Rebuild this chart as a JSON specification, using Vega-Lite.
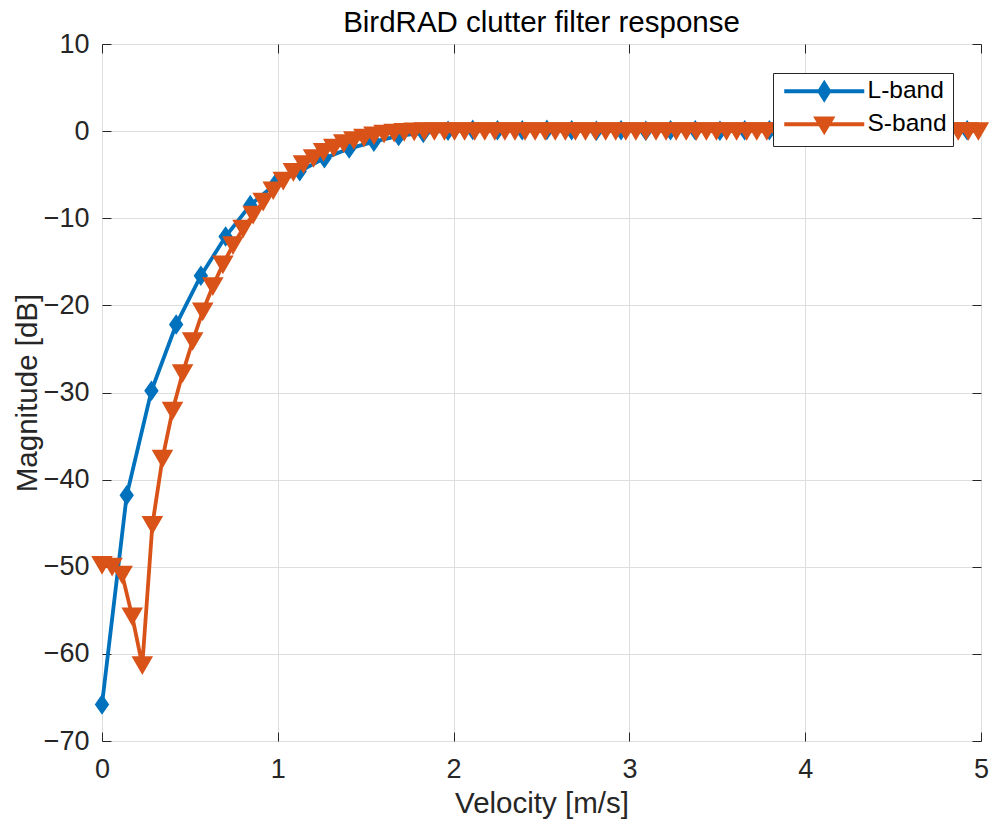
{
"$schema": "https://vega.github.io/schema/vega-lite/v6.json",
"width": 879, "height": 697,
"autosize": {"type": "none"},
"padding": {"left": 102, "top": 44, "right": 13, "bottom": 87},
"background": "white",
"title": {"text": "BirdRAD clutter filter response", "fontSize": 29.5, "font": "Liberation Sans", "fontWeight": "normal", "color": "#000000", "anchor": "middle", "offset": -8},
"config": {
  "view": {"stroke": "#262626", "strokeWidth": 1},
  "axis": {"labelFont": "Liberation Sans", "titleFont": "Liberation Sans", "labelFontSize": 27, "titleFontSize": 29.5, "labelColor": "#262626", "titleColor": "#262626", "titleFontWeight": "normal", "tickColor": "#262626", "tickSize": -9, "tickWidth": 1, "domain": false, "gridColor": "#dedede", "gridWidth": 1, "labelFlush": false, "labelBound": false, "labelOverlap": false},
  "legend": {"labelFont": "Liberation Sans", "labelFontSize": 24.5, "labelColor": "#000000"}
},
"data": {"values": [
{"s":"L-band","v":0,"m":-65.8},{"s":"L-band","v":0.1406,"m":-41.8},{"s":"L-band","v":0.2812,"m":-29.8},{"s":"L-band","v":0.4218,"m":-22.2},{"s":"L-band","v":0.5624,"m":-16.6},{"s":"L-band","v":0.703,"m":-12.1},{"s":"L-band","v":0.8436,"m":-8.5},{"s":"L-band","v":0.9842,"m":-6.1},{"s":"L-band","v":1.1248,"m":-4.6},{"s":"L-band","v":1.2654,"m":-3.1},{"s":"L-band","v":1.406,"m":-2.0},{"s":"L-band","v":1.5466,"m":-1.2},{"s":"L-band","v":1.6872,"m":-0.55},{"s":"L-band","v":1.8278,"m":-0.2},{"s":"L-band","v":1.9684,"m":0.05},{"s":"L-band","v":2.109,"m":0.15},{"s":"L-band","v":2.2496,"m":0.1},{"s":"L-band","v":2.3902,"m":0.1},{"s":"L-band","v":2.5308,"m":0.15},{"s":"L-band","v":2.6714,"m":0.1},{"s":"L-band","v":2.812,"m":0.05},{"s":"L-band","v":2.9526,"m":0.1},{"s":"L-band","v":3.0932,"m":0.05},{"s":"L-band","v":3.2338,"m":0.1},{"s":"L-band","v":3.3744,"m":0.1},{"s":"L-band","v":3.515,"m":0.05},{"s":"L-band","v":3.6556,"m":0.1},{"s":"L-band","v":3.7962,"m":0.1},{"s":"L-band","v":3.9368,"m":0.1},{"s":"L-band","v":4.0774,"m":0.05},{"s":"L-band","v":4.218,"m":0.1},{"s":"L-band","v":4.3586,"m":0.1},{"s":"L-band","v":4.4992,"m":0.05},{"s":"L-band","v":4.6398,"m":0.1},{"s":"L-band","v":4.7804,"m":0.1},{"s":"L-band","v":4.921,"m":0.1},
{"s":"S-band","v":0,"m":-49.8},{"s":"S-band","v":0.0573,"m":-50.0},{"s":"S-band","v":0.1146,"m":-50.9},{"s":"S-band","v":0.1719,"m":-55.7},{"s":"S-band","v":0.2292,"m":-61.3},{"s":"S-band","v":0.2865,"m":-45.2},{"s":"S-band","v":0.3438,"m":-37.6},{"s":"S-band","v":0.4011,"m":-32.1},{"s":"S-band","v":0.4584,"m":-27.8},{"s":"S-band","v":0.5157,"m":-24.1},{"s":"S-band","v":0.573,"m":-20.7},{"s":"S-band","v":0.6303,"m":-17.8},{"s":"S-band","v":0.6876,"m":-15.3},{"s":"S-band","v":0.7449,"m":-13.1},{"s":"S-band","v":0.8022,"m":-11.2},{"s":"S-band","v":0.8595,"m":-9.6},{"s":"S-band","v":0.9168,"m":-8.1},{"s":"S-band","v":0.9741,"m":-6.8},{"s":"S-band","v":1.0314,"m":-5.7},{"s":"S-band","v":1.0887,"m":-4.7},{"s":"S-band","v":1.146,"m":-3.8},{"s":"S-band","v":1.2033,"m":-3.1},{"s":"S-band","v":1.2606,"m":-2.4},{"s":"S-band","v":1.3179,"m":-1.9},{"s":"S-band","v":1.3752,"m":-1.4},{"s":"S-band","v":1.4325,"m":-1.05},{"s":"S-band","v":1.4898,"m":-0.75},{"s":"S-band","v":1.5471,"m":-0.5},{"s":"S-band","v":1.6044,"m":-0.3},{"s":"S-band","v":1.6617,"m":-0.18},{"s":"S-band","v":1.719,"m":-0.1},{"s":"S-band","v":1.7763,"m":-0.05},{"s":"S-band","v":1.8336,"m":-0.02},
{"s":"S-band","v":1.8909,"m":0},{"s":"S-band","v":1.9482,"m":0},{"s":"S-band","v":2.0055,"m":0},{"s":"S-band","v":2.0628,"m":0},{"s":"S-band","v":2.1201,"m":0},{"s":"S-band","v":2.1774,"m":0},{"s":"S-band","v":2.2347,"m":0},{"s":"S-band","v":2.292,"m":0},{"s":"S-band","v":2.3493,"m":0},{"s":"S-band","v":2.4066,"m":0},{"s":"S-band","v":2.4639,"m":0},{"s":"S-band","v":2.5212,"m":0},{"s":"S-band","v":2.5785,"m":0},{"s":"S-band","v":2.6358,"m":0},{"s":"S-band","v":2.6931,"m":0},{"s":"S-band","v":2.7504,"m":0},{"s":"S-band","v":2.8077,"m":0},{"s":"S-band","v":2.865,"m":0},{"s":"S-band","v":2.9223,"m":0},{"s":"S-band","v":2.9796,"m":0},{"s":"S-band","v":3.0369,"m":0},{"s":"S-band","v":3.0942,"m":0},{"s":"S-band","v":3.1515,"m":0},{"s":"S-band","v":3.2088,"m":0},{"s":"S-band","v":3.2661,"m":0},{"s":"S-band","v":3.3234,"m":0},{"s":"S-band","v":3.3807,"m":0},{"s":"S-band","v":3.438,"m":0},{"s":"S-band","v":3.4953,"m":0},{"s":"S-band","v":3.5526,"m":0},{"s":"S-band","v":3.6099,"m":0},{"s":"S-band","v":3.6672,"m":0},{"s":"S-band","v":3.7245,"m":0},{"s":"S-band","v":3.7818,"m":0},{"s":"S-band","v":3.8391,"m":0},{"s":"S-band","v":3.8964,"m":0},{"s":"S-band","v":3.9537,"m":0},{"s":"S-band","v":4.011,"m":0},{"s":"S-band","v":4.0683,"m":0},{"s":"S-band","v":4.1256,"m":0},{"s":"S-band","v":4.1829,"m":0},{"s":"S-band","v":4.2402,"m":0},{"s":"S-band","v":4.2975,"m":0},{"s":"S-band","v":4.3548,"m":0},{"s":"S-band","v":4.4121,"m":0},{"s":"S-band","v":4.4694,"m":0},{"s":"S-band","v":4.5267,"m":0},{"s":"S-band","v":4.584,"m":0},{"s":"S-band","v":4.6413,"m":0},{"s":"S-band","v":4.6986,"m":0},{"s":"S-band","v":4.7559,"m":0},{"s":"S-band","v":4.8132,"m":0},{"s":"S-band","v":4.8705,"m":0},{"s":"S-band","v":4.9278,"m":0},{"s":"S-band","v":4.9851,"m":0}
]},
"layer": [
 {
  "transform": [{"filter": "datum.s === 'L-band'"}],
  "mark": {"type": "line", "strokeWidth": 3.8, "point": {"filled": true, "shape": "M0,-1L0.7,0L0,1L-0.7,0Z", "size": 324, "stroke": "#0072BD", "strokeWidth": 1.5}},
  "encoding": {
    "x": {"field": "v", "type": "quantitative", "scale": {"domain": [0, 5], "nice": false, "zero": false},
          "axis": {"orient": "bottom", "title": "Velocity [m/s]", "values": [0,1,2,3,4,5], "labelPadding": 24, "titlePadding": 7, "grid": true}},
    "y": {"field": "m", "type": "quantitative", "scale": {"domain": [-70, 10], "nice": false, "zero": false},
          "axis": {"orient": "left", "title": "Magnitude [dB]", "values": [-70,-60,-50,-40,-30,-20,-10,0,10], "labelPadding": 22, "titlePadding": 1, "grid": true}},
    "color": {"field": "s", "type": "nominal", "scale": {"domain": ["L-band", "S-band"], "range": ["#0072BD", "#D95319"]},
      "legend": {"title": null, "orient": "none", "legendX": 671, "legendY": 29, "padding": 6, "strokeColor": "#262626", "fillColor": "#ffffff",
        "symbolSize": 400, "symbolOffset": 33, "labelOffset": 31, "rowPadding": 3, "symbolStrokeWidth": 3.8,
        "encode": {"symbols": {"update": {
          "shape": {"signal": "datum.value === 'L-band' ? 'M-4,0L4,0M0,-0.8L0.5,0L0,0.8L-0.5,0Z' : 'M-4,0L4,0M-0.78,-0.58L0.78,-0.58L0,0.72Z'"},
          "fill": {"signal": "datum.value === 'L-band' ? '#0072BD' : '#D95319'"},
          "stroke": {"signal": "datum.value === 'L-band' ? '#0072BD' : '#D95319'"},
          "strokeWidth": {"value": 3.8}, "opacity": {"value": 1}, "fillOpacity": {"value": 1}}}}}}
  }
 },
 {
  "transform": [{"filter": "datum.s === 'S-band'"}],
  "mark": {"type": "line", "strokeWidth": 3.8, "point": {"filled": true, "shape": "triangle-down", "size": 360, "stroke": "#D95319", "strokeWidth": 1.5}},
  "encoding": {
    "x": {"field": "v", "type": "quantitative", "scale": {"domain": [0, 5], "nice": false, "zero": false},
          "axis": {"orient": "top", "title": null, "labels": false, "grid": false, "values": [0,1,2,3,4,5]}},
    "y": {"field": "m", "type": "quantitative", "scale": {"domain": [-70, 10], "nice": false, "zero": false},
          "axis": {"orient": "right", "title": null, "labels": false, "grid": false, "values": [-70,-60,-50,-40,-30,-20,-10,0,10]}},
    "color": {"field": "s", "type": "nominal", "scale": {"domain": ["L-band", "S-band"], "range": ["#0072BD", "#D95319"]}}
  }
 }
],
"resolve": {"axis": {"x": "independent", "y": "independent"}}
}
